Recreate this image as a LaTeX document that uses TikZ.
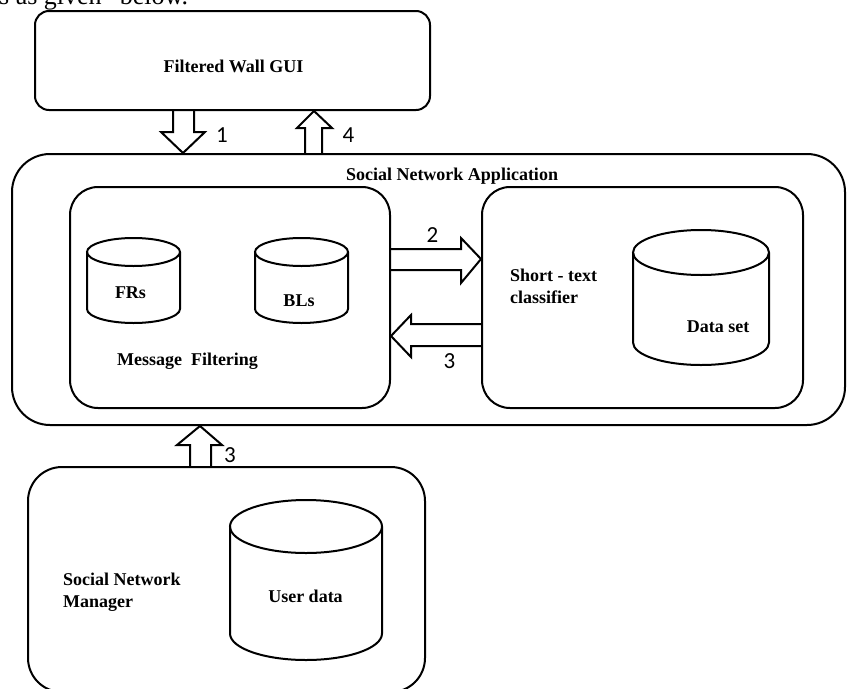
\documentclass[tikz,border=0pt]{standalone}
\usepackage{fontspec}
\setmainfont{Liberation Serif}
\newfontfamily\numfont{Carlito}
\usepackage{tikz}
\usetikzlibrary{positioning, calc}

% data store outline drawn round a named node: name, half width, ellipse radius
\newcommand{\dbstore}[3]{%
  \draw[dbline] ($(#1.north)+(0,#3)$) ellipse [x radius=#2pt, y radius=#3pt];
  \draw[dbline] ($(#1.north west)+(0,#3)$) -- ($(#1.south west)+(0,-#3)$)
    arc[start angle=180, end angle=360, x radius=#2pt, y radius=#3pt]
    -- ($(#1.north east)+(0,#3)$);}

\begin{document}
\begin{tikzpicture}[x=1pt, y=-1pt,
  box/.style={draw, line width=2pt, rounded corners=#1, inner sep=0pt},
  store/.style={inner sep=0pt, outer sep=0pt},
  dbline/.style={line width=2pt},
  lbl/.style={font=\fontsize{18}{22}\selectfont\bfseries, inner sep=0pt},
  num/.style={font=\numfont\fontsize{23}{26}\selectfont, inner sep=0pt},
  blk/.style={draw, line width=2pt, line join=miter}]
  \useasboundingbox (0,0) rectangle (848,688);
  \node[font=\fontsize{26}{30}\selectfont, anchor=base west, inner sep=0pt] (intro) at (-1,5) {s as given" below.};

  % boxes
  \node[box=14pt, minimum width=395pt, minimum height=99pt] (gui) at (232.5,60.5) {};
  \node[box=38pt, minimum width=833pt, minimum height=271pt] (sna) at (428.5,289.5) {};
  \node[box=28pt, minimum width=320pt, minimum height=221pt] (mf) at (230,297.5) {};
  \node[box=28pt, minimum width=321pt, minimum height=221pt] (stc) at (642.5,297.5) {};
  \node[box=34pt, minimum width=397pt, minimum height=225pt] (snm) at (226.5,579.5) {};

  % data stores
  \node[store, minimum width=93pt, minimum height=85pt] (frs) at (133.5,280.5) {};
  \node[store, minimum width=93pt, minimum height=85pt] (bls) at (301.5,280.5) {};
  \node[store, minimum width=136pt, minimum height=135pt] (dset) at (701,297.5) {};
  \node[store, minimum width=152pt, minimum height=160pt] (udata) at (306,580) {};
  \dbstore{frs}{46.5}{14}
  \dbstore{bls}{46.5}{14}
  \dbstore{dset}{68}{22.5}
  \dbstore{udata}{76}{26.5}

  % texts
  \node[lbl, anchor=base] (tgui) at (233.5,72) {Filtered Wall GUI};
  \node[lbl, anchor=base] (tsna) at (452,180) {Social Network Application};
  \node[lbl, anchor=base] (tfrs) at (130.5,298) {FRs};
  \node[lbl, anchor=base] (tbls) at (299,306) {BLs};
  \node[lbl, anchor=base] (tmf) at (187.5,365) {Message~~Filtering};
  \node[lbl, anchor=base west, align=left] (tstc) at (510,303) {Short - text\\classifier};
  \node[lbl, anchor=base] (tdset) at (718,332) {Data set};
  \node[lbl, anchor=base west, align=left] (tsnm) at (63,607) {Social Network\\Manager};
  \node[lbl, anchor=base] (tudata) at (305.5,602) {User data};

  % step numbers
  \node[num, anchor=base] (n1) at (222,142) {1};
  \node[num, anchor=base] (n4) at (348.5,142) {4};
  \node[num, anchor=base] (n2) at (432.5,242) {2};
  \node[num, anchor=base] (n3a) at (449.5,368) {3};
  \node[num, anchor=base] (n3b) at (230,462) {3};

  % block arrows
  \draw[blk] (173,0 |- gui.south) -- (173,132) -- (161,132) -- (183,0 |- sna.north)
    -- (205,132) -- (194,132) -- (194,0 |- gui.south);
  \draw[blk] (305,0 |- sna.north) -- (305,128) -- (297,128) -- (314,0 |- gui.south)
    -- (332,128) -- (322,128) -- (322,0 |- sna.north);
  \draw[blk] (mf.east |- 0,249) -- (461,249) -- (461,238) -- (stc.west |- 0,259)
    -- (461,283) -- (461,270) -- (mf.east |- 0,270);
  \draw[blk] (stc.west |- 0,324) -- (411,324) -- (411,315) -- (mf.east |- 0,336)
    -- (411,357) -- (411,346) -- (stc.west |- 0,346);
  \draw[blk] (190,0 |- snm.north) -- (190,445) -- (177,445) -- (200,0 |- sna.south)
    -- (222,445) -- (211,445) -- (211,0 |- snm.north);
\end{tikzpicture}
\end{document}
